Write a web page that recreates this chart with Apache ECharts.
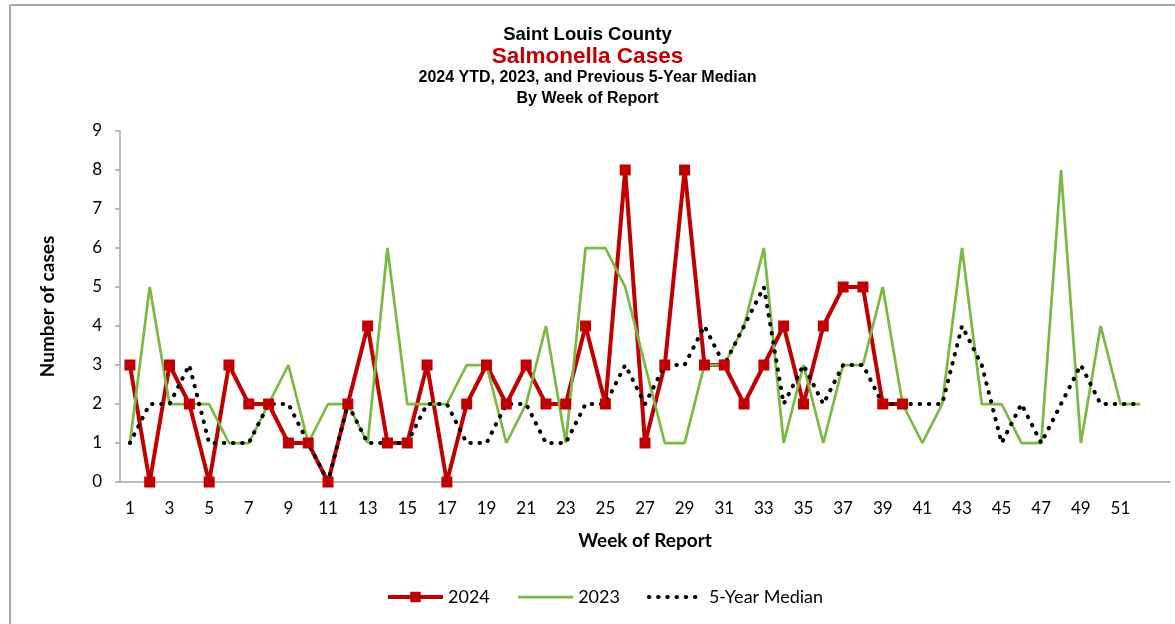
<!DOCTYPE html>
<html>
<head>
<meta charset="utf-8">
<script src="https://cdn.jsdelivr.net/npm/echarts@6/dist/echarts.min.js"></script>
<style>
html, body { margin: 0; padding: 0; background: #fff; }
#chart { width: 1175px; height: 624px; }
</style>
</head>
<body>
<div id="chart"></div>
<script>
// week labels (53rd slot is empty, as in the source sheet)
var weeks = ['1','2','3','4','5','6','7','8','9','10','11','12','13','14','15','16','17','18','19','20',
    '21','22','23','24','25','26','27','28','29','30','31','32','33','34','35','36','37','38','39','40',
    '41','42','43','44','45','46','47','48','49','50','51','52',''];

var cases2024 = [3,0,3,2,0,3,2,2,1,1, 0,2,4,1,1,3,0,2,3,2, 3,2,2,4,2,8,1,3,8,3, 3,2,3,4,2,4,5,5,2,2];
var cases2023 = [1,5,2,2,2,1,1,2,3,1, 2,2,1,6,2,2,2,3,3,1, 2,4,1,6,6,5,3,1,1,3, 3,4,6,1,3,1,3,3,5,2,
    1,2,6,2,2,1,1,8,1,4, 2,2];
var median5yr = [1,2,2,3,1,1,1,2,2,1, 0,2,1,1,1,2,2,1,1,2, 2,1,1,2,2,3,2,3,3,4, 3,4,5,2,3,2,3,3,2,2,
    2,2,4,3,1,2,1,2,3,2, 2,2];

var yTicks = [0, 9, 1]; // min, max, interval

var axisGray = '#a6a6a6';
var bodyFont = 'Lato, "Open Sans", sans-serif';
var titleFont = '"Liberation Sans", Arial, sans-serif';

var dotted = [0.5, 8.7];

var chart = echarts.init(document.getElementById('chart'));

var option = {
    animation: false,
    backgroundColor: '#fff',
    title: [
        { text: 'Saint Louis County', left: 'center', top: 20,
          textStyle: { fontFamily: titleFont, fontSize: 18.5, fontWeight: 'bold', color: '#000' } },
        { text: 'Salmonella Cases', left: 'center', top: 40,
          textStyle: { fontFamily: titleFont, fontSize: 22.5, fontWeight: 'bold', color: '#c00000' } },
        { text: '2024 YTD, 2023, and Previous 5-Year Median', left: 'center', top: 65,
          textStyle: { fontFamily: titleFont, fontSize: 16, fontWeight: 'bold', color: '#000' } },
        { text: 'By Week of Report', left: 'center', top: 86,
          textStyle: { fontFamily: titleFont, fontSize: 16, fontWeight: 'bold', color: '#000' } }
    ],
    graphic: [
        { type: 'line', shape: { x1: 10, y1: 5, x2: 1175, y2: 5 }, style: { stroke: axisGray, lineWidth: 2 } },
        { type: 'line', shape: { x1: 10, y1: 5, x2: 10, y2: 624 }, style: { stroke: axisGray, lineWidth: 2 } }
    ],
    legend: {
        top: 583,
        left: 381,
        itemWidth: 55,
        itemHeight: 13,
        itemGap: 27,
        textStyle: { fontFamily: bodyFont, fontSize: 18, color: '#000' },
        data: [
            { name: '2024', lineStyle: { width: 4 } },
            { name: '2023', itemStyle: { opacity: 0 }, lineStyle: { width: 2.75 } },
            { name: '5-Year Median', itemStyle: { opacity: 0 },
              lineStyle: { width: 4, type: dotted, cap: 'round' } }
        ]
    },
    grid: {
        left: 120,
        right: 5,
        top: 131,
        bottom: 142
    },
    xAxis: {
        type: 'category',
        data: weeks,
        boundaryGap: true,
        name: 'Week of Report',
        nameLocation: 'middle',
        nameGap: 49,
        nameTextStyle: { fontFamily: bodyFont, fontSize: 19, fontWeight: 'bold', color: '#000' },
        axisLine: { lineStyle: { color: axisGray, width: 1.5 } },
        axisTick: { show: false },
        axisLabel: { interval: 1, margin: 18, fontFamily: bodyFont, fontSize: 17, color: '#000' },
        splitLine: { show: false }
    },
    yAxis: {
        type: 'value',
        min: yTicks[0],
        max: yTicks[1],
        interval: yTicks[2],
        name: 'Number of cases',
        nameLocation: 'middle',
        nameGap: 63,
        nameTextStyle: { fontFamily: bodyFont, fontSize: 19, fontWeight: 'bold', color: '#000' },
        axisLine: { show: true, lineStyle: { color: axisGray, width: 1.5 } },
        axisTick: { show: true, length: 5, lineStyle: { color: axisGray, width: 1.5 } },
        axisLabel: { margin: 18, fontFamily: bodyFont, fontSize: 17, color: '#000' },
        splitLine: { show: false }
    },
    series: [
        {
            name: '2024',
            type: 'line',
            data: cases2024,
            symbol: 'rect',
            symbolSize: 11,
            showAllSymbol: true,
            color: '#c00000',
            itemStyle: { color: '#c00000' },
            lineStyle: { color: '#c00000', width: 4 }
        },
        {
            name: '2023',
            type: 'line',
            data: cases2023,
            symbol: 'none',
            color: '#7cb944',
            lineStyle: { color: '#7cb944', width: 2.75 }
        },
        {
            name: '5-Year Median',
            type: 'line',
            data: median5yr,
            symbol: 'none',
            color: '#000',
            lineStyle: { color: '#000', width: 4, type: dotted, cap: 'round' }
        }
    ]
};

chart.setOption(option);
</script>
</body>
</html>
